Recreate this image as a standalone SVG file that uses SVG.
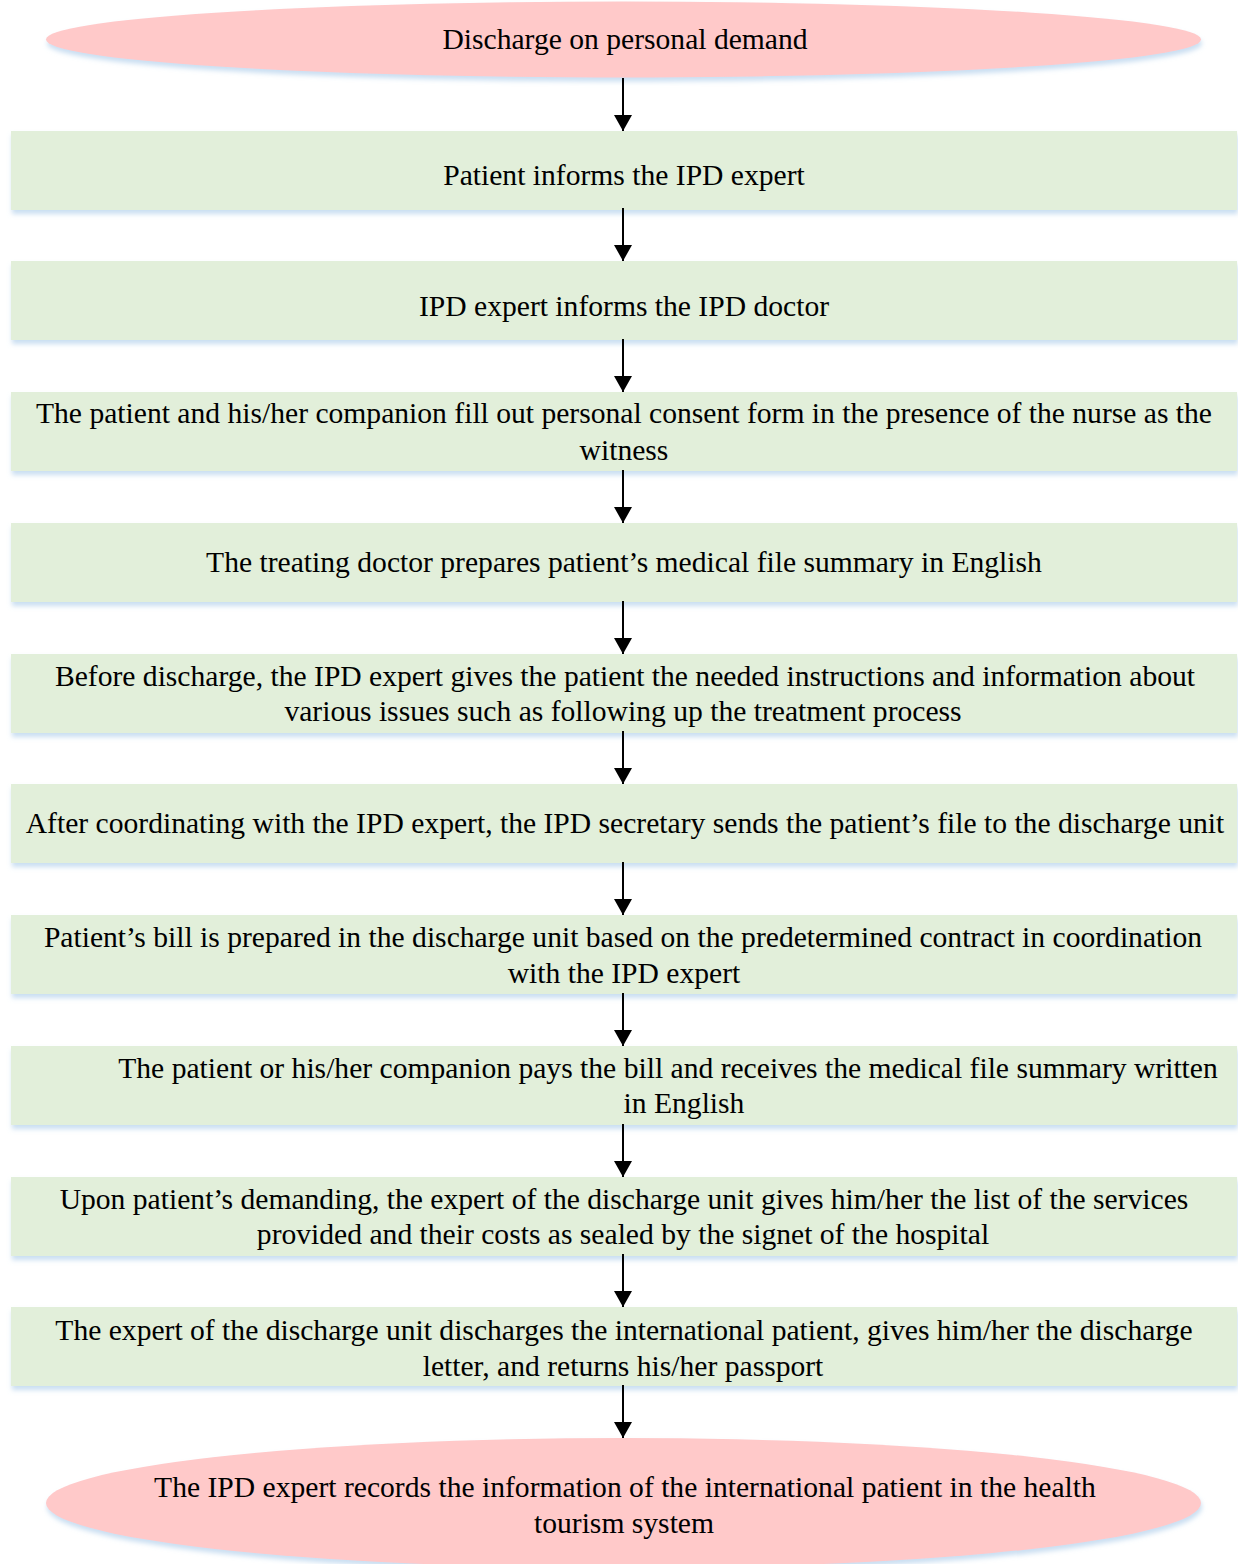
<svg xmlns="http://www.w3.org/2000/svg" width="1238" height="1564" viewBox="0 0 1238 1564">
<defs>
<filter id="sh" x="-5%" y="-20%" width="110%" height="150%">
<feDropShadow dx="1" dy="4" stdDeviation="2.5" flood-color="#bcd6ee" flood-opacity="0.8"/>
</filter>
<marker id="ah" viewBox="0 0 16 18" refX="16" refY="9" markerWidth="16" markerHeight="18" markerUnits="userSpaceOnUse" orient="auto">
<path d="M0,0 L16,9 L0,18 Z" fill="#000"/>
</marker>
</defs>
<style>
.term{fill:#ffc9c9;filter:url(#sh)}
.box{fill:#e2efda;filter:url(#sh)}
text{font-family:"Liberation Serif","Times New Roman",serif;font-size:29.6px;fill:#000;text-anchor:middle}
.c line{stroke:#000;stroke-width:2;marker-end:url(#ah)}
</style>
<rect width="1238" height="1564" fill="#fff"/>
<g id="n0"><ellipse class="term" cx="623.5" cy="39.5" rx="577.5" ry="38"/><text x="625" y="49">Discharge on personal demand</text></g>
<g id="n1"><rect class="box" x="11" y="131" width="1226" height="79"/><text x="624" y="185">Patient informs the IPD expert</text></g>
<g id="n2"><rect class="box" x="11" y="261" width="1226" height="79"/><text x="624" y="316">IPD expert informs the IPD doctor</text></g>
<g id="n3"><rect class="box" x="11" y="392" width="1226" height="79"/><text x="624" y="423">The patient and his/her companion fill out personal consent form in the presence of the nurse as the</text><text x="624" y="460">witness</text></g>
<g id="n4"><rect class="box" x="11" y="523" width="1226" height="79"/><text x="624" y="572">The treating doctor prepares patient’s medical file summary in English</text></g>
<g id="n5"><rect class="box" x="11" y="654" width="1226" height="79"/><text x="625" y="686">Before discharge, the IPD expert gives the patient the needed instructions and information about</text><text x="623" y="721">various issues such as following up the treatment process</text></g>
<g id="n6"><rect class="box" x="11" y="784" width="1226" height="79"/><text x="625" y="833">After coordinating with the IPD expert, the IPD secretary sends the patient’s file to the discharge unit</text></g>
<g id="n7"><rect class="box" x="11" y="915" width="1226" height="79"/><text x="623" y="947">Patient’s bill is prepared in the discharge unit based on the predetermined contract in coordination</text><text x="624" y="983">with the IPD expert</text></g>
<g id="n8"><rect class="box" x="11" y="1046" width="1226" height="79"/><text x="668" y="1078">The patient or his/her companion pays the bill and receives the medical file summary written</text><text x="684" y="1113">in English</text></g>
<g id="n9"><rect class="box" x="11" y="1177" width="1226" height="79"/><text x="624" y="1209">Upon patient’s demanding, the expert of the discharge unit gives him/her the list of the services</text><text x="623" y="1244">provided and their costs as sealed by the signet of the hospital</text></g>
<g id="n10"><rect class="box" x="11" y="1307" width="1226" height="79"/><text x="624" y="1340">The expert of the discharge unit discharges the international patient, gives him/her the discharge</text><text x="623" y="1376">letter, and returns his/her passport</text></g>
<g id="n11"><ellipse class="term" cx="623.5" cy="1503" rx="577.5" ry="65"/><text x="625" y="1497">The IPD expert records the information of the international patient in the health</text><text x="624" y="1533">tourism system</text></g>
<g id="connectors" class="c">
<line x1="623" y1="78" x2="623" y2="131"/>
<line x1="623" y1="208" x2="623" y2="261"/>
<line x1="623" y1="339" x2="623" y2="392"/>
<line x1="623" y1="470" x2="623" y2="523"/>
<line x1="623" y1="601" x2="623" y2="654"/>
<line x1="623" y1="731" x2="623" y2="784"/>
<line x1="623" y1="862" x2="623" y2="915"/>
<line x1="623" y1="993" x2="623" y2="1046"/>
<line x1="623" y1="1124" x2="623" y2="1177"/>
<line x1="623" y1="1254" x2="623" y2="1307"/>
<line x1="623" y1="1385" x2="623" y2="1438"/>
</g>
</svg>
